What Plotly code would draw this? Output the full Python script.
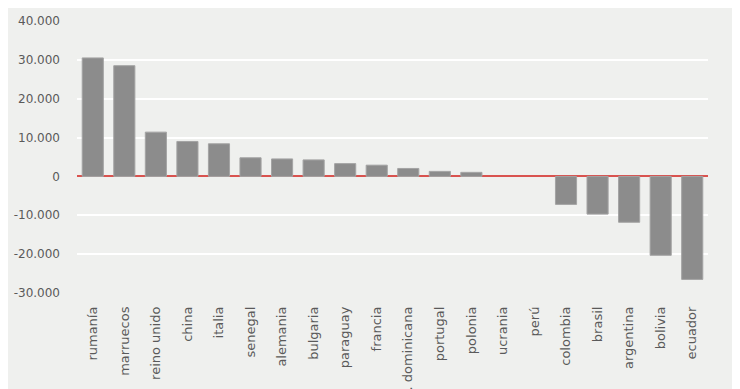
import plotly.graph_objects as go

countries = ["rumanía", "marruecos", "reino unido", "china", "italia", "senegal",
             "alemania", "bulgaria", "paraguay", "francia", "r. dominicana",
             "portugal", "polonia", "ucrania", "perú", "colombia", "brasil",
             "argentina", "bolivia", "ecuador"]
values = [30500, 28500, 11400, 9000, 8400, 4800, 4500, 4250, 3300, 2900, 2050,
          1300, 1050, 0, 0, -7200, -9700, -11800, -20300, -26500]
tick_vals = [-30000, -20000, -10000, 0, 10000, 20000, 30000, 40000]
tick_text = ["-30.000", "-20.000", "-10.000", "0", "10.000", "20.000", "30.000", "40.000"]

bg = "#eff0ee"
fig = go.Figure()
fig.add_trace(go.Bar(
    x=countries, y=values,
    marker=dict(color="#8c8c8c",
                line=dict(color="#a4a4a4", width=[1 if v != 0 else 0 for v in values])),
    width=0.67,
))
fig.update_layout(
    width=740, height=389,
    margin=dict(l=69, r=40, t=13, b=104, autoexpand=False),
    paper_bgcolor=bg, plot_bgcolor=bg,
    showlegend=False,
    font=dict(family="DejaVu Sans", size=12, color="#555555"),
)
fig.update_yaxes(
    range=[-30000, 40000], tickvals=tick_vals, ticktext=tick_text,
    showgrid=True, gridcolor="#ffffff", gridwidth=2,
    zeroline=True, zerolinecolor="#d9534f", zerolinewidth=1.5,
    ticks="", ticklabelstandoff=16, automargin=False,
    tickfont=dict(size=12, color="#5a5a5a"),
)
fig.update_xaxes(
    tickangle=-90, showgrid=False, ticks="",
    tickfont=dict(size=13, color="#5a5a5a"),
    ticklabelstandoff=10, automargin=False,
    range=[-0.5, 19.5],
)
fig.write_html("out.html")
